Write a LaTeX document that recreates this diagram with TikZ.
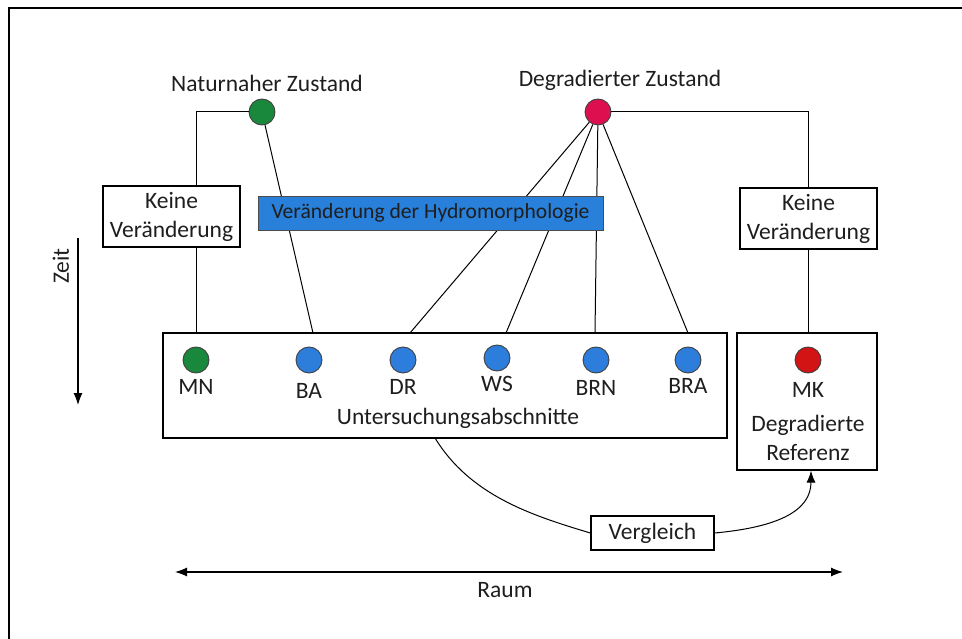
\documentclass[tikz,border=0pt]{standalone}
\usepackage{fontspec}
\setmainfont{Carlito}
\usepackage{xcolor}
\usetikzlibrary{arrows.meta}

\definecolor{natgreen}{RGB}{25,135,60}
\definecolor{degred}{RGB}{222,15,78}
\definecolor{mkred}{RGB}{210,20,20}
\definecolor{barblue}{RGB}{40,128,218}
\definecolor{dotblue}{RGB}{45,125,220}
\definecolor{txt}{RGB}{30,30,30}

\begin{document}
\begin{tikzpicture}[x=1pt,y=-1pt,
	font=\fontsize{23.5}{29}\selectfont,text=txt,
	>={Latex[length=12pt,width=9pt]},
	dot/.style={circle,draw=black!75,line width=0.9pt,minimum size=26pt,inner sep=0pt},
	frame/.style={draw,line width=1.2pt,fill=white,align=center,inner sep=0pt},
	lbl/.style={inner sep=0pt}]
		\useasboundingbox (0,0) rectangle (962,639);
		\draw[line width=2pt] (9,639) -- (9,8) -- (962,8);
		%
		\node[lbl] (NZ) at (267,83) {Naturnaher Zustand};
		\node[lbl] (DZ) at (620,80) {Degradierter Zustand};
		\node[dot,fill=natgreen] (G) at (262,112) {};
		\node[dot,fill=degred] (R) at (598,112) {};
		%
		\coordinate (MNt) at (196,333);
		\coordinate (BAt) at (313,333);
		\coordinate (DRt) at (410,333);
		\coordinate (WSt) at (506,333);
		\coordinate (BRNt) at (595,333);
		\coordinate (BRAt) at (688,333);
		\coordinate (MKt) at (808,333);
		%
		\path[line width=1pt]
		(G) edge (BAt)
		(R) edge (DRt)
		(R) edge (WSt)
		(R) edge (BRNt)
		(R) edge (BRAt);
		\draw[line width=1pt] (G.west) -| (MNt);
		\draw[line width=1pt] (R.east) -| (MKt);
		%
		\node[frame,minimum width=137pt,minimum height=61pt] (KL) at (171.5,216.5) {Keine\\Veränderung};
		\node[frame,minimum width=137pt,minimum height=61pt] (KR) at (808.5,218.5) {Keine\\Veränderung};
		\node[frame,draw=black!70,line width=0.8pt,fill=barblue,minimum width=345pt,minimum height=34pt,
			font=\fontsize{21.6}{26}\selectfont] (HM) at (430.5,213) {Veränderung der Hydromorphologie};
		%
		\node[frame,minimum width=564pt,minimum height=105pt] (U) at (445,385.5) {};
		\node[frame,minimum width=140pt,minimum height=137pt] (MKB) at (807,401.5) {};
		%
		\node[dot,fill=natgreen] (MN) at (196,360) {};
		\node[dot,fill=dotblue] (BA) at (309,360) {};
		\node[dot,fill=dotblue] (DR) at (403,360) {};
		\node[dot,fill=dotblue] (WS) at (497,358) {};
		\node[dot,fill=dotblue] (BRN) at (596,360) {};
		\node[dot,fill=dotblue] (BRA) at (688,360) {};
		\node[dot,fill=mkred] (MK) at (808,360) {};
		%
		\node[lbl] (MNl) at (196,387) {MN};
		\node[lbl] (BAl) at (309,391) {BA};
		\node[lbl] (DRl) at (403,387) {DR};
		\node[lbl] (WSl) at (497,384) {WS};
		\node[lbl] (BRNl) at (596,388) {BRN};
		\node[lbl] (BRAl) at (688,386) {BRA};
		\node[lbl] (MKl) at (808,390) {MK};
		\node[lbl] (UA) at (458,418) {Untersuchungsabschnitte};
		\node[lbl,align=center] (DRef) at (808,438) {Degradierte\\Referenz};
		%
		\node[frame,minimum width=123pt,minimum height=34pt] (V) at (652.5,533) {Vergleich};
		\coordinate (Ub) at (435,438);
		\draw[line width=1pt] (Ub) .. controls (470,495) and (530,515) .. (V.west);
		\draw[line width=1pt,->] (V.east) .. controls (780,527) and (811,510) .. (MKB.south -| 811,0);
		%
		\coordinate (RaL) at (175,572);
		\coordinate (RaR) at (843,572);
		\draw[line width=1.1pt,<->] (RaL) -- (RaR);
		\node[lbl] (Raum) at (505,590) {Raum};
		%
		\coordinate (ZeT) at (78,238);
		\coordinate (ZeB) at (78,405);
		\draw[line width=1.1pt,->] (ZeT) -- (ZeB);
		\node[lbl,rotate=90] (Zeit) at (61,266) {Zeit};
\end{tikzpicture}
\end{document}
